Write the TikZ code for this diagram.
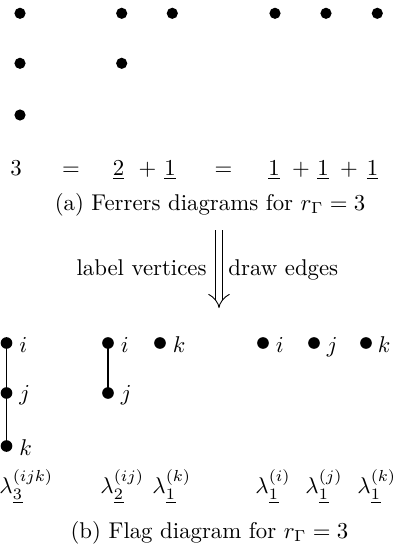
\documentclass[tikz,border=0pt]{standalone}
\usetikzlibrary{arrows.meta}
\begin{document}
\begin{tikzpicture}[x=0.4386pt,y=-0.4386pt,
  topdot/.style={circle,fill=black,inner sep=0pt,minimum size=4.9pt},
  botdot/.style={circle,fill=black,inner sep=0pt,minimum size=5.1pt},
  tok/.style={anchor=base,inner sep=0pt},
  lab/.style={anchor=base west,inner sep=0pt},
  lam/.style={anchor=base west,inner sep=0pt},
  edge/.style={line width=0.8pt},
  bigarrow/.style={double,double distance=3pt,line width=0.4pt,-{Implies}}]
\useasboundingbox (0,0) rectangle (395,547);
% Ferrers diagrams
\node[topdot] (a1) at (20,13.3) {};
\node[topdot] (a2) at (20,63.3) {};
\node[topdot] (a3) at (20,115) {};
\node[topdot] (b1) at (121.7,13.3) {};
\node[topdot] (b2) at (121.7,63.3) {};
\node[topdot] (b3) at (172.3,13.3) {};
\node[topdot] (c1) at (275,13.3) {};
\node[topdot] (c2) at (326,13.3) {};
\node[topdot] (c3) at (377.3,13.3) {};
% equation
\node[tok] (e1) at (16,175) {$3$};
\node[tok] (e2) at (71,175) {$=$};
\node[tok] (e3) at (118.5,175) {$\underline{2}$};
\node[tok] (e4) at (147.5,175) {$+$};
\node[tok] (e5) at (170,175) {$\underline{1}$};
\node[tok] (e6) at (223.5,175) {$=$};
\node[tok] (e7) at (274,175) {$\underline{1}$};
\node[tok] (e8) at (301,175) {$+$};
\node[tok] (e9) at (323,175) {$\underline{1}$};
\node[tok] (e10) at (349,175) {$+$};
\node[tok] (e11) at (372.5,175) {$\underline{1}$};
\node[tok] (capa) at (210,210) {(a) Ferrers diagrams for $r_\Gamma = 3$};
% arrow
\coordinate (ar1) at (219,230);
\coordinate (ar2) at (219,308);
\draw[bigarrow] (ar1) -- (ar2);
\node[anchor=base east,inner sep=0pt] (lv) at (207,275) {label vertices};
\node[anchor=base west,inner sep=0pt] (de) at (228,275) {draw edges};
% flag diagrams
\node[botdot] (p1) at (6.5,343) {};
\node[botdot] (p2) at (6.5,393) {};
\node[botdot] (p3) at (6.5,446) {};
\node[botdot] (q1) at (108,343) {};
\node[botdot] (q2) at (108,393) {};
\node[botdot] (q3) at (160,343) {};
\node[botdot] (r1) at (263,343) {};
\node[botdot] (r2) at (314,343) {};
\node[botdot] (r3) at (366,343) {};
\draw[edge] (p1.center) -- (p2.center) -- (p3.center);
\draw[edge] (q1.center) -- (q2.center);
\node[lab] (lp1) at (19,352) {$i$};
\node[lab] (lp2) at (19,400) {$j$};
\node[lab] (lp3) at (19,455) {$k$};
\node[lab] (lq1) at (120.5,352) {$i$};
\node[lab] (lq2) at (120.5,400) {$j$};
\node[lab] (lq3) at (172.5,352) {$k$};
\node[lab] (lr1) at (275.5,352) {$i$};
\node[lab] (lr2) at (326.5,352) {$j$};
\node[lab] (lr3) at (377.5,352) {$k$};
\node[lam] (m1) at (-1,493) {$\lambda_{\underline{3}}^{(ijk)}$};
\node[lam] (m2) at (100,493) {$\lambda_{\underline{2}}^{(ij)}$};
\node[lam] (m3) at (152,493) {$\lambda_{\underline{1}}^{(k)}$};
\node[lam] (m4) at (255,493) {$\lambda_{\underline{1}}^{(i)}$};
\node[lam] (m5) at (305,493) {$\lambda_{\underline{1}}^{(j)}$};
\node[lam] (m6) at (357,493) {$\lambda_{\underline{1}}^{(k)}$};
\node[tok] (capb) at (209.5,538) {(b) Flag diagram for $r_\Gamma = 3$};
\end{tikzpicture}
\end{document}
